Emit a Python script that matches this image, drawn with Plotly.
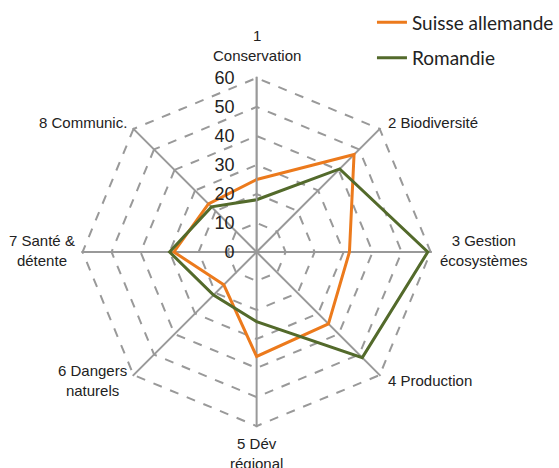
import math
import plotly.graph_objects as go

categories = ["1<br>Conservation", "2 Biodiversité", "3 Gestion<br>écosystèmes", "4 Production",
              "5 Dév<br>régional", "6 Dangers<br>naturels", "7 Santé &<br>détente", "8 Communic."]
suisse_allemande = [25, 47.5, 32, 35, 36, 16, 28.5, 23.5]
romandie = [18, 40.5, 59, 51.5, 24, 21, 30, 22]
radial_ticks = [0, 10, 20, 30, 40, 50, 60]

W, H = 559, 468
cx, cy, R = 258, 252, 175
RMAX = 60.4
Rd = R * RMAX / 60

fig = go.Figure()
for i, (name, vals, col) in enumerate([("Suisse allemande", suisse_allemande, "#EC7A1C"),
                                       ("Romandie", romandie, "#536A2B")]):
    fig.add_trace(go.Scatterpolar(
        r=vals + vals[:1], theta=categories + categories[:1], mode="lines", name=name,
        legendgroup=f"g{i}", line=dict(color=col, width=3)))

# category labels placed just outside each polygon vertex
annotations = []
n = len(categories)
for i, lab in enumerate(categories):
    ang = math.radians(90 - 360 * i / n)
    c, s = math.cos(ang), math.sin(ang)
    vx, vy = cx + R * c, cy - R * s
    if abs(c) < 0.1:
        dx, dy = 0, (-11 if s > 0 else 6)
        xa, ya = "center", ("bottom" if s > 0 else "top")
    elif abs(s) < 0.1:
        dx, dy = (7 if c > 0 else -6), -2
        xa, ya = ("left" if c > 0 else "right"), "middle"
    else:
        dx, dy = (6 if c > 0 else -5), (-6 if s > 0 else 5)
        xa, ya = ("left" if c > 0 else "right"), "middle"
    annotations.append(dict(
        text=lab, x=(vx + dx) / W, y=1 - (vy + dy) / H, xref="paper", yref="paper",
        xanchor=xa, yanchor=ya, align="center", showarrow=False,
        font=dict(family="Liberation Sans, Arial", size=15, color="#222")))

fig.update_layout(
    width=W, height=H, margin=dict(l=0, r=0, t=0, b=0),
    paper_bgcolor="white", plot_bgcolor="white",
    font=dict(family="Liberation Sans, Arial", size=15, color="#222"),
    polar=dict(
        domain=dict(x=[(cx - Rd) / W, (cx + Rd) / W], y=[1 - (cy + Rd) / H, 1 - (cy - Rd) / H]),
        gridshape="linear", bgcolor="white",
        angularaxis=dict(direction="clockwise", rotation=90, showline=False,
                         gridcolor="#999", gridwidth=1.5, ticks="", showticklabels=False),
        radialaxis=dict(range=[0, RMAX], tickvals=radial_ticks, angle=90, tickangle=90,
                        showline=True, linecolor="#999", linewidth=1.5,
                        gridcolor="#999", griddash="dash", gridwidth=1.5,
                        ticks="outside", ticklen=15, tickcolor="rgba(0,0,0,0)",
                        side="counterclockwise",
                        tickfont=dict(size=18, color="#222")),
    ),
    annotations=annotations,
    legend=dict(x=0.669, y=0.993, xanchor="left", yanchor="top",
                font=dict(family="Lato", size=19, color="#222"),
                tracegroupgap=8, bgcolor="rgba(0,0,0,0)"),
    showlegend=True,
)
fig.write_html("out.html", config={"displayModeBar": False},
               post_script="document.body.style.margin='0px';")
